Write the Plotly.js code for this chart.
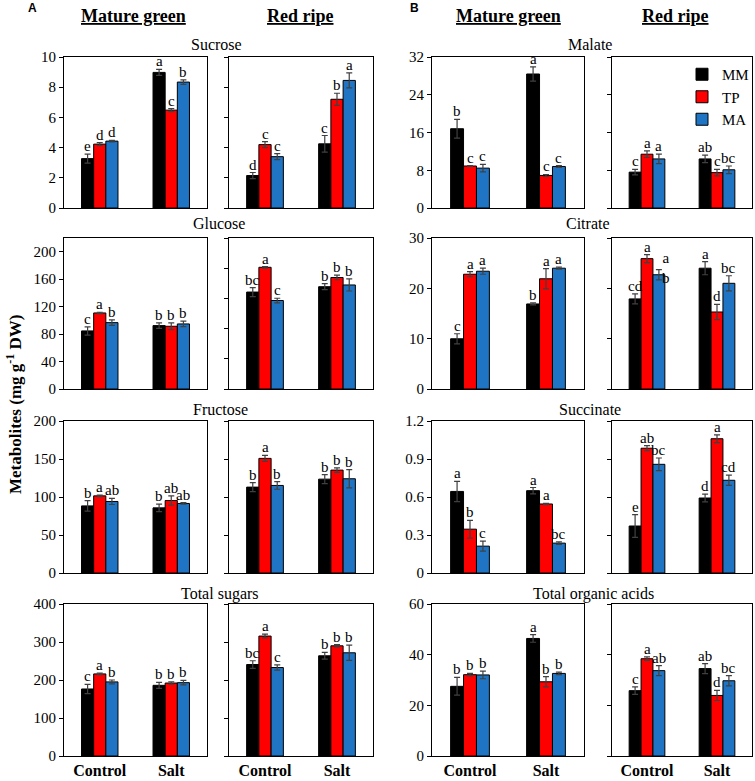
<!DOCTYPE html>
<html>
<head>
<meta charset="utf-8">
<script src="https://cdn.plot.ly/plotly-3.0.1.min.js"></script>
<style>html,body{margin:0;padding:0;background:#fff;}#chart{width:755px;height:781px;}</style>
</head>
<body>
<div id="chart"></div>
<script>
// ---------- DATA ----------
const genotypes = ['MM', 'TP', 'MA'];
const treatments = ['Control', 'Salt'];
// Each array: rows = genotype (MM, TP, MA), columns = treatment (Control, Salt)

// Sucrose
const sucroseMG     = [[3.27, 8.98], [4.23, 6.48], [4.43, 8.34]];
const sucroseMG_err = [[0.3, 0.2], [0.1, 0.1], [0.05, 0.15]];
const sucroseMG_sig = [['e', 'a'], ['d', 'c'], ['d', 'b']];
const sucroseRR     = [[2.15, 4.25], [4.2, 7.2], [3.4, 8.45]];
const sucroseRR_err = [[0.2, 0.55], [0.2, 0.4], [0.2, 0.5]];
const sucroseRR_sig = [['d', 'c'], ['c', 'b'], ['c', 'a']];
// Malate
const malateMG     = [[16.8, 28.4], [8.9, 6.9], [8.45, 8.8]];
const malateMG_err = [[2, 1.5], [0.1, 0.2], [0.8, 0.2]];
const malateMG_sig = [['b', 'a'], ['c', 'c'], ['c', 'c']];
const malateRR     = [[7.6, 10.4], [11.4, 7.5], [10.4, 8.1]];
const malateRR_err = [[0.6, 0.8], [0.7, 0.7], [1.0, 0.8]];
const malateRR_sig = [['c', 'ab'], ['a', 'c'], ['a', 'bc']];
// Glucose
const glucoseMG     = [[84.6, 92.4], [110.8, 91.4], [96.7, 94.8]];
const glucoseMG_err = [[6, 4], [1, 5], [4, 4]];
const glucoseMG_sig = [['c', 'b'], ['a', 'b'], ['b', 'b']];
const glucoseRR     = [[128.4, 135.5], [161.2, 147.7], [117.2, 137.8]];
const glucoseRR_err = [[6, 4], [1, 3], [3, 8]];
const glucoseRR_sig = [['bc', 'b'], ['a', 'b'], ['c', 'b']];
// Citrate
const citrateMG     = [[9.98, 16.9], [22.8, 21.9], [23.4, 24.0]];
const citrateMG_err = [[1, 0.2], [0.5, 2], [0.6, 0.2]];
const citrateMG_sig = [['c', 'b'], ['a', 'a'], ['a', 'a']];
const citrateRR     = [[17.9, 24.0], [25.9, 15.3], [22.7, 21.0]];
const citrateRR_err = [[1, 1.3], [0.8, 1.5], [1, 1.5]];
const citrateRR_sig = [['cd', 'a'], ['a', 'd'], ['a<br>b', 'bc']];
// Fructose
const fructoseMG     = [[88.3, 85.7], [101.5, 95.4], [94.1, 91.5]];
const fructoseMG_err = [[7, 5], [1, 6], [4, 1]];
const fructoseMG_sig = [['b', 'b'], ['a', 'ab'], ['ab', 'ab']];
const fructoseRR     = [[113, 123.5], [150.8, 135.4], [115.2, 124]];
const fructoseRR_err = [[6, 6], [4, 3], [5, 12]];
const fructoseRR_sig = [['b', 'b'], ['a', 'b'], ['b', 'b']];
// Succinate
const succinateMG     = [[0.644, 0.65], [0.346, 0.545], [0.212, 0.236]];
const succinateMG_err = [[0.08, 0.025], [0.07, 0.005], [0.04, 0.01]];
const succinateMG_sig = [['a', 'a'], ['b', 'a'], ['c', 'bc']];
const succinateRR     = [[0.371, 0.592], [0.985, 1.06], [0.858, 0.732]];
const succinateRR_err = [[0.09, 0.03], [0.02, 0.03], [0.05, 0.04]];
const succinateRR_sig = [['e', 'd'], ['ab', 'a'], ['bc', 'cd']];
// Total sugars
const totalSugarsMG     = [[176.4, 186], [216, 192], [195, 193]];
const totalSugarsMG_err = [[12, 8], [2, 3], [5, 6]];
const totalSugarsMG_sig = [['c', 'b'], ['a', 'b'], ['b', 'b']];
const totalSugarsRR     = [[240.7, 263.7], [315.6, 290], [232.8, 271.6]];
const totalSugarsRR_err = [[10, 9], [5, 3], [7, 20]];
const totalSugarsRR_sig = [['bc', 'b'], ['a', 'b'], ['c', 'b']];
// Total organic acids
const totalOAMG     = [[27.5, 46.4], [32.1, 29.3], [32.0, 32.6]];
const totalOAMG_err = [[3.5, 1.5], [0.5, 2], [1.5, 0.5]];
const totalOAMG_sig = [['b', 'a'], ['b', 'b'], ['b', 'b']];
const totalOARR     = [[25.8, 34.5], [38.4, 23.9], [33.7, 29.7]];
const totalOARR_err = [[1.5, 2], [0.7, 2], [2, 2]];
const totalOARR_sig = [['c', 'ab'], ['a', 'd'], ['ab', 'bc']];

const metaboliteTitles = ['Sucrose', 'Malate', 'Glucose', 'Citrate', 'Fructose', 'Succinate', 'Total sugars', 'Total organic acids'];
const stageTitles = ['Mature green', 'Red ripe'];

// ---------- LAYOUT HELPERS ----------
const W = 755, H = 781;
const colColors = ['#000000', '#ff0000', '#1f74c4'];
const serif = 'Liberation Serif, Times New Roman, serif';
const colPx = [[64, 207], [229, 373], [432, 584], [612, 752]];
const rowPx = [[57, 208], [238, 389], [421, 573], [604, 756]];
const px2x = p => p / W;
const px2y = p => 1 - p / H;

const panels = [
  {v: sucroseMG, e: sucroseMG_err, s: sucroseMG_sig, row: 0, col: 0, range: [0, 10], dtick: 2},
  {v: sucroseRR, e: sucroseRR_err, s: sucroseRR_sig, row: 0, col: 1, range: [0, 10], dtick: 2},
  {v: malateMG, e: malateMG_err, s: malateMG_sig, row: 0, col: 2, range: [0, 32], dtick: 8},
  {v: malateRR, e: malateRR_err, s: malateRR_sig, row: 0, col: 3, range: [0, 32], dtick: 8},
  {v: glucoseMG, e: glucoseMG_err, s: glucoseMG_sig, row: 1, col: 0, range: [0, 220], dtick: 40},
  {v: glucoseRR, e: glucoseRR_err, s: glucoseRR_sig, row: 1, col: 1, range: [0, 200], dtick: 40},
  {v: citrateMG, e: citrateMG_err, s: citrateMG_sig, row: 1, col: 2, range: [0, 30], dtick: 10},
  {v: citrateRR, e: citrateRR_err, s: citrateRR_sig, row: 1, col: 3, range: [0, 30], dtick: 10},
  {v: fructoseMG, e: fructoseMG_err, s: fructoseMG_sig, row: 2, col: 0, range: [0, 200], dtick: 50},
  {v: fructoseRR, e: fructoseRR_err, s: fructoseRR_sig, row: 2, col: 1, range: [0, 200], dtick: 50},
  {v: succinateMG, e: succinateMG_err, s: succinateMG_sig, row: 2, col: 2, range: [0, 1.2], dtick: 0.3},
  {v: succinateRR, e: succinateRR_err, s: succinateRR_sig, row: 2, col: 3, range: [0, 1.2], dtick: 0.3},
  {v: totalSugarsMG, e: totalSugarsMG_err, s: totalSugarsMG_sig, row: 3, col: 0, range: [0, 400], dtick: 100},
  {v: totalSugarsRR, e: totalSugarsRR_err, s: totalSugarsRR_sig, row: 3, col: 1, range: [0, 400], dtick: 100},
  {v: totalOAMG, e: totalOAMG_err, s: totalOAMG_sig, row: 3, col: 2, range: [0, 60], dtick: 20},
  {v: totalOARR, e: totalOARR_err, s: totalOARR_sig, row: 3, col: 3, range: [0, 60], dtick: 20}
];

const bargap = 0.49;
const barW = (1 - bargap) / 3;
const offsets = [-barW, 0, barW];

const traces = [];
const annotations = [];
const layout = {
  width: W, height: H,
  margin: {l: 0, r: 0, t: 0, b: 0},
  paper_bgcolor: '#fff', plot_bgcolor: '#fff',
  barmode: 'group', bargap: bargap, bargroupgap: 0,
  showlegend: true,
  legend: {
    x: px2x(682), y: px2y(58), xanchor: 'left', yanchor: 'top',
    bgcolor: 'rgba(0,0,0,0)', font: {family: serif, size: 15, color: '#000'},
    tracegroupgap: 0, itemwidth: 30, borderwidth: 0
  },
  font: {family: serif, color: '#000'},
  annotations: annotations
};

panels.forEach((p, i) => {
  const n = i + 1;
  const xa = 'x' + (n === 1 ? '' : n);
  const ya = 'y' + (n === 1 ? '' : n);
  const cx = colPx[p.col], ry = rowPx[p.row];
  const leftCol = (p.col === 0 || p.col === 2);
  const bottomRow = p.row === 3;
  layout['xaxis' + (n === 1 ? '' : n)] = {
    domain: [px2x(cx[0]), px2x(cx[1])], anchor: ya,
    range: [-0.5, 1.5], tickvals: [0, 1], ticktext: treatments,
    showticklabels: bottomRow, ticks: '', ticklen: 0,
    tickfont: {family: serif, size: 16, color: '#000', weight: 'bold'},
    ticklabelstandoff: 0,
    showline: true, mirror: true, linecolor: '#000', linewidth: 1,
    showgrid: false, zeroline: false, fixedrange: true
  };
  layout['yaxis' + (n === 1 ? '' : n)] = {
    domain: [px2y(ry[1]), px2y(ry[0])], anchor: xa,
    range: p.range, dtick: p.dtick, tick0: 0,
    showticklabels: leftCol, ticks: 'outside', ticklen: 4, tickcolor: '#000', tickwidth: 1,
    tickfont: {family: serif, size: 15, color: '#000'},
    showline: true, mirror: true, linecolor: '#000', linewidth: 1,
    showgrid: false, zeroline: false, fixedrange: true
  };
  genotypes.forEach((g, gi) => {
    traces.push({
      type: 'bar', name: g, x: [0, 1], y: p.v[gi],
      xaxis: xa, yaxis: ya,
      marker: {color: colColors[gi], line: {color: '#000', width: 1}},
      error_y: {type: 'data', array: p.e[gi], visible: true, color: '#404040', thickness: 1.2, width: 3},
      showlegend: i === 3, legendgroup: g,
      hoverinfo: 'skip'
    });
    [0, 1].forEach(ti => {
      const label = p.s[gi][ti];
      const multi = label.indexOf('<br>') >= 0;
      annotations.push({
        xref: xa, yref: ya, x: ti + offsets[gi], y: p.v[gi][ti] + p.e[gi][ti],
        text: label, showarrow: false, xanchor: 'center', yanchor: 'bottom',
        yshift: multi ? -17 : -1, xshift: multi ? 7 : 0, borderpad: 0,
        font: {family: serif, size: 15, color: '#000'}
      });
    });
  });
});

// Metabolite subtitles
const subPos = [[216, 45], [590, 45], [219, 223], [588, 223], [220, 410], [590, 410], [220, 594], [593, 594]];
metaboliteTitles.forEach((t, i) => {
  annotations.push({xref: 'paper', yref: 'paper', x: px2x(subPos[i][0]), y: px2y(subPos[i][1]),
    text: t, showarrow: false, xanchor: 'center', yanchor: 'middle',
    font: {family: serif, size: 16, color: '#000'}});
});
// Stage headers
const headPos = [[133, 16, 0], [300, 16, 1], [509, 16, 0], [675, 16, 1]];
headPos.forEach(h => {
  annotations.push({xref: 'paper', yref: 'paper', x: px2x(h[0]), y: px2y(h[1]),
    text: '<u><b>' + stageTitles[h[2]] + '</b></u>', showarrow: false, xanchor: 'center', yanchor: 'middle',
    font: {family: serif, size: 18, color: '#000'}});
});
// Panel letters
[['A', 32], ['B', 414]].forEach(a => {
  annotations.push({xref: 'paper', yref: 'paper', x: px2x(a[1]), y: px2y(8), text: '<b>' + a[0] + '</b>',
    showarrow: false, xanchor: 'center', yanchor: 'middle',
    font: {family: 'Liberation Sans, Arial, sans-serif', size: 12, color: '#000'}});
});
// Y axis title
annotations.push({xref: 'paper', yref: 'paper', x: px2x(14), y: px2y(405),
  text: '<b>Metabolites (mg g<sup>-1</sup> DW)</b>', textangle: -90, showarrow: false,
  xanchor: 'center', yanchor: 'middle', font: {family: serif, size: 17, color: '#000'}});

Plotly.newPlot('chart', traces, layout, {staticPlot: true, displayModeBar: false});
</script>
</body>
</html>
